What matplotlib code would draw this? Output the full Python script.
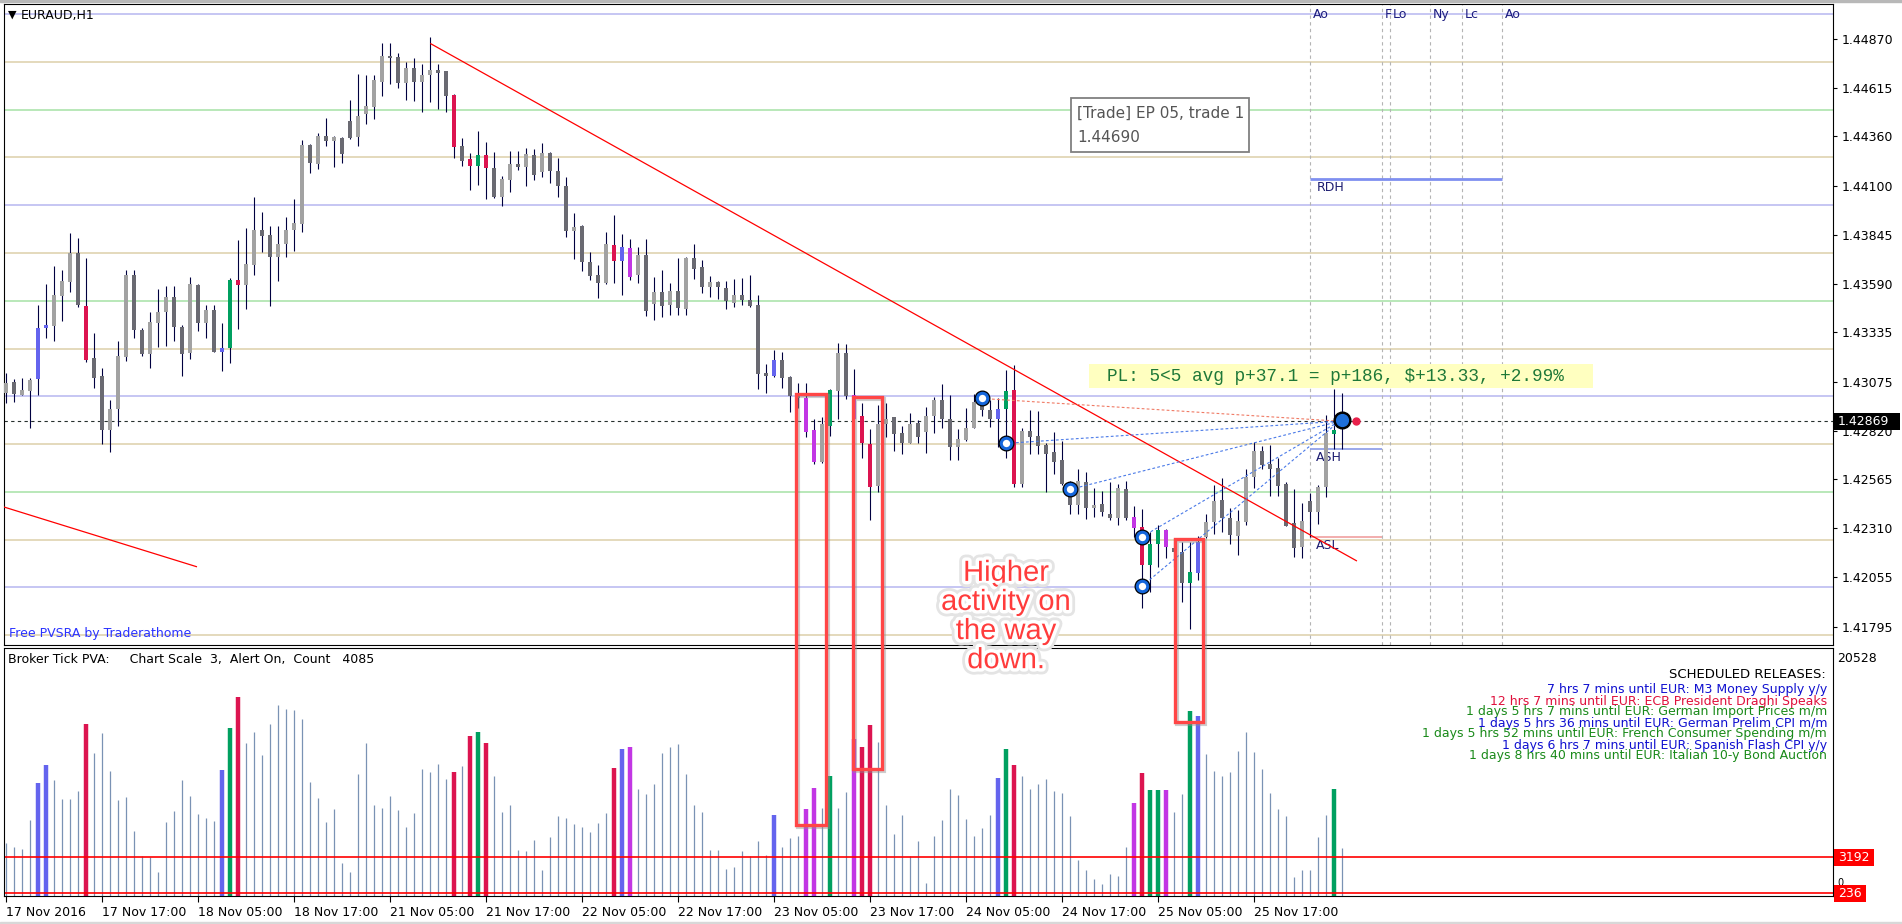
import numpy as np
import matplotlib
matplotlib.use('Agg')
import matplotlib.pyplot as plt
import matplotlib.patheffects as pe
from matplotlib.patches import Rectangle
from matplotlib.transforms import IdentityTransform, blended_transform_factory

# EURAUD H1, one value per bar starting 17 Nov 2016 05:00
opens = [
    1.43016, 1.43074, 1.43007, 1.43030, 1.43089, 1.43356, 1.43370, 1.43527, 1.43600, 1.43749,
    1.43473, 1.43199, 1.43107, 1.42824, 1.42933, 1.43208, 1.43635, 1.43347, 1.43220, 1.43382,
    1.43440, 1.43522, 1.43365, 1.43225, 1.43583, 1.43382, 1.43452, 1.43231, 1.43252, 1.43609,
    1.43583, 1.43687, 1.43870, 1.43844, 1.43731, 1.43795, 1.43870, 1.43900, 1.44315, 1.44214,
    1.44362, 1.44338, 1.44354, 1.44441, 1.44359, 1.44477, 1.44512, 1.44647, 1.44781, 1.44774,
    1.44641, 1.44716, 1.44647, 1.44682, 1.44708, 1.44703, 1.44577, 1.44310, 1.44240, 1.44207,
    1.44263, 1.44193, 1.44045, 1.44132, 1.44216, 1.44202, 1.44263, 1.44172, 1.44272, 1.44181,
    1.44101, 1.43867, 1.43891, 1.43705, 1.43635, 1.43595, 1.43792, 1.43710, 1.43775, 1.43635,
    1.43740, 1.43483, 1.43547, 1.43478, 1.43551, 1.43457, 1.43722, 1.43675, 1.43573, 1.43596,
    1.43565, 1.43490, 1.43530, 1.43504, 1.43478, 1.43120, 1.43108, 1.43190, 1.43103, 1.43012,
    1.42989, 1.42823, 1.42658, 1.42846, 1.43029, 1.43225, 1.43007, 1.42897, 1.42750, 1.42530,
    1.42853, 1.42890, 1.42809, 1.42757, 1.42858, 1.42815, 1.42898, 1.42980, 1.42884, 1.42736,
    1.42771, 1.42837, 1.42960, 1.42928, 1.42884, 1.42932, 1.43033, 1.42544, 1.42818, 1.42792,
    1.42745, 1.42710, 1.42666, 1.42541, 1.42431, 1.42553, 1.42417, 1.42436, 1.42387, 1.42361,
    1.42515, 1.42370, 1.42318, 1.42120, 1.42227, 1.42300, 1.42209, 1.42187, 1.42026, 1.42078,
    1.42265, 1.42340, 1.42457, 1.42366, 1.42270, 1.42344, 1.42576, 1.42714, 1.42646, 1.42623,
    1.42541, 1.42335, 1.42213, 1.42452, 1.42396, 1.42527, 1.42801, 1.42829]
highs = [
    1.43120, 1.43091, 1.43095, 1.43095, 1.43478, 1.43588, 1.43682, 1.43661, 1.43853, 1.43829,
    1.43722, 1.43333, 1.43147, 1.42981, 1.43290, 1.43661, 1.43661, 1.43360, 1.43440, 1.43560,
    1.43578, 1.43578, 1.43374, 1.43626, 1.43590, 1.43478, 1.43478, 1.43386, 1.43618, 1.43818,
    1.43883, 1.44045, 1.43966, 1.43891, 1.43893, 1.43937, 1.44033, 1.44341, 1.44320, 1.44380,
    1.44455, 1.44362, 1.44356, 1.44551, 1.44687, 1.44682, 1.44682, 1.44847, 1.44847, 1.44798,
    1.44751, 1.44769, 1.44737, 1.44882, 1.44737, 1.44705, 1.44580, 1.44350, 1.44272, 1.44388,
    1.44333, 1.44277, 1.44153, 1.44286, 1.44286, 1.44298, 1.44293, 1.44324, 1.44277, 1.44245,
    1.44146, 1.43958, 1.43897, 1.43754, 1.43687, 1.43858, 1.43949, 1.43850, 1.43823, 1.43783,
    1.43823, 1.43626, 1.43661, 1.43594, 1.43722, 1.43730, 1.43797, 1.43713, 1.43629, 1.43605,
    1.43605, 1.43614, 1.43617, 1.43635, 1.43530, 1.43167, 1.43242, 1.43233, 1.43108, 1.43071,
    1.43068, 1.42884, 1.42893, 1.43040, 1.43277, 1.43272, 1.43143, 1.42963, 1.42829, 1.42954,
    1.42963, 1.42893, 1.42844, 1.42914, 1.42876, 1.42946, 1.42998, 1.43064, 1.43007, 1.42827,
    1.42937, 1.43010, 1.42989, 1.42980, 1.42989, 1.43137, 1.43164, 1.42836, 1.42928, 1.42923,
    1.42754, 1.42815, 1.42768, 1.42558, 1.42619, 1.42602, 1.42518, 1.42504, 1.42553, 1.42541,
    1.42558, 1.42426, 1.42408, 1.42291, 1.42326, 1.42304, 1.42257, 1.42239, 1.42239, 1.42269,
    1.42387, 1.42536, 1.42571, 1.42414, 1.42405, 1.42619, 1.42759, 1.42741, 1.42745, 1.42679,
    1.42550, 1.42513, 1.42440, 1.42492, 1.42536, 1.42902, 1.43041, 1.43015]
lows = [
    1.42963, 1.42969, 1.43007, 1.42836, 1.43007, 1.43307, 1.43292, 1.43395, 1.43548, 1.43470,
    1.43182, 1.43046, 1.42751, 1.42711, 1.42845, 1.43187, 1.43307, 1.43213, 1.43150, 1.43257,
    1.43264, 1.43290, 1.43108, 1.43196, 1.43344, 1.43307, 1.43231, 1.43135, 1.43177, 1.43352,
    1.43457, 1.43635, 1.43757, 1.43474, 1.43604, 1.43731, 1.43762, 1.43862, 1.44170, 1.44190,
    1.44312, 1.44202, 1.44219, 1.44347, 1.44312, 1.44425, 1.44451, 1.44572, 1.44633, 1.44615,
    1.44551, 1.44547, 1.44490, 1.44542, 1.44504, 1.44490, 1.44249, 1.44207, 1.44080, 1.44106,
    1.44031, 1.44040, 1.43998, 1.44068, 1.44184, 1.44102, 1.44132, 1.44150, 1.44118, 1.44045,
    1.43836, 1.43719, 1.43656, 1.43609, 1.43516, 1.43590, 1.43595, 1.43530, 1.43609, 1.43595,
    1.43420, 1.43399, 1.43417, 1.43425, 1.43425, 1.43425, 1.43612, 1.43542, 1.43521, 1.43509,
    1.43457, 1.43465, 1.43478, 1.43465, 1.43041, 1.43015, 1.43103, 1.43045, 1.42919, 1.42937,
    1.42789, 1.42646, 1.42650, 1.42794, 1.42881, 1.42986, 1.42880, 1.42679, 1.42352, 1.42497,
    1.42789, 1.42715, 1.42701, 1.42754, 1.42754, 1.42705, 1.42806, 1.42836, 1.42666, 1.42666,
    1.42768, 1.42836, 1.42898, 1.42841, 1.42736, 1.42680, 1.42527, 1.42527, 1.42696, 1.42698,
    1.42501, 1.42593, 1.42536, 1.42384, 1.42387, 1.42358, 1.42370, 1.42375, 1.42352, 1.42326,
    1.42352, 1.42265, 1.41890, 1.41977, 1.42105, 1.42152, 1.42105, 1.41922, 1.41782, 1.42039,
    1.42257, 1.42279, 1.42291, 1.42227, 1.42169, 1.42326, 1.42522, 1.42619, 1.42480, 1.42480,
    1.42323, 1.42161, 1.42152, 1.42265, 1.42331, 1.42475, 1.42727, 1.42727]
closes = [
    1.43068, 1.43011, 1.43033, 1.43086, 1.43356, 1.43374, 1.43531, 1.43604, 1.43752, 1.43478,
    1.43190, 1.43098, 1.42824, 1.42933, 1.43211, 1.43635, 1.43347, 1.43220, 1.43391, 1.43440,
    1.43522, 1.43365, 1.43222, 1.43588, 1.43382, 1.43452, 1.43231, 1.43252, 1.43609, 1.43583,
    1.43693, 1.43870, 1.43841, 1.43731, 1.43795, 1.43870, 1.43905, 1.44315, 1.44219, 1.44362,
    1.44336, 1.44359, 1.44266, 1.44354, 1.44467, 1.44519, 1.44655, 1.44781, 1.44772, 1.44641,
    1.44716, 1.44647, 1.44682, 1.44708, 1.44694, 1.44573, 1.44307, 1.44233, 1.44207, 1.44263,
    1.44193, 1.44045, 1.44136, 1.44216, 1.44202, 1.44268, 1.44158, 1.44272, 1.44181, 1.44102,
    1.43867, 1.43884, 1.43705, 1.43631, 1.43595, 1.43795, 1.43710, 1.43780, 1.43626, 1.43740,
    1.43445, 1.43547, 1.43472, 1.43551, 1.43464, 1.43725, 1.43669, 1.43573, 1.43596, 1.43570,
    1.43500, 1.43530, 1.43504, 1.43472, 1.43116, 1.43108, 1.43190, 1.43097, 1.43003, 1.42994,
    1.42815, 1.42658, 1.42855, 1.43033, 1.43225, 1.43003, 1.42884, 1.42754, 1.42527, 1.42855,
    1.42884, 1.42801, 1.42757, 1.42855, 1.42789, 1.42897, 1.42980, 1.42879, 1.42736, 1.42775,
    1.42837, 1.42972, 1.42928, 1.42884, 1.42933, 1.43027, 1.42544, 1.42818, 1.42789, 1.42741,
    1.42698, 1.42658, 1.42541, 1.42431, 1.42558, 1.42417, 1.42431, 1.42393, 1.42366, 1.42522,
    1.42366, 1.42309, 1.42117, 1.42230, 1.42300, 1.42213, 1.42187, 1.42026, 1.42082, 1.42239,
    1.42340, 1.42452, 1.42365, 1.42277, 1.42347, 1.42576, 1.42714, 1.42640, 1.42619, 1.42532,
    1.42323, 1.42209, 1.42347, 1.42396, 1.42527, 1.42806, 1.42823, 1.42869]
# broker tick volume per bar
volumes = [
    4427, 4015, 3850, 6294, 9342, 10825, 9589, 8024, 8024, 8683,
    14203, 11813, 13461, 10331, 7941, 8189, 5388, 3328, 3191, 1955,
    6129, 7035, 9589, 8271, 6788, 6459, 6212, 10413, 13873, 16509,
    12637, 13543, 11649, 14203, 15850, 15438, 15356, 14614, 9424, 8106,
    6129, 7200, 2752, 2010, 10083, 12637, 7530, 7283, 8271, 7118,
    5717, 6871, 10523, 10248, 10907, 9699, 10248, 10743, 13214, 13543,
    12637, 9919, 6953, 7530, 3823, 3740, 4647, 2175, 4894, 6624,
    6459, 5964, 5717, 5305, 6047, 6871, 10578, 12143, 12308, 8848,
    8436, 9260, 11813, 12308, 12555, 10083, 7530, 6953, 3823, 3823,
    2257, 2422, 3740, 3328, 4564, 3411, 6706, 4070, 4811, 4976,
    7200, 8930, 7283, 9919, 7283, 8601, 12967, 12308, 14120, 12720,
    7530, 5141, 6706, 3328, 4564, 1104, 4976, 6294, 8848, 8354,
    6376, 4976, 5635, 6706, 9754, 12143, 10825, 9919, 8848, 9260,
    9672, 8683, 8518, 6624, 2999, 2175, 1434, 1022, 1845, 1681,
    4070, 7694, 10166, 8765, 8765, 8765, 6953, 8436, 15273, 14862,
    11731, 10331, 9919, 10248, 11978, 13543, 11896, 10496, 8518, 7200,
    6624, 1599, 2175, 2175, 4894, 6706, 8848, 3987]
# PVSRA class: u/d normal up/down, B/M rising volume up/down, G/R climax up/down
pvsra = ("uduuBBuuud" "Rdduuudduu" "uddududBGR" "uudduuuudu" "dudduuuudd"
         "uduuddRdRG" "Rduudududd" "duddduRBMu" "dudududdud" "duddddBddd"
         "MMuGudMRRu" "udduduuddu" "uuddBGRudd" "ddddududdu" "dMRGGMddGB"
         "uudduuuddd" "dduduuGu")

time_ticks = [1, 13, 25, 37, 49, 61, 73, 85, 97, 109, 121, 133, 145, 157]
time_labels = ['17 Nov 2016', '17 Nov 17:00', '18 Nov 05:00', '18 Nov 17:00',
               '21 Nov 05:00', '21 Nov 17:00', '22 Nov 05:00', '22 Nov 17:00',
               '23 Nov 05:00', '23 Nov 17:00', '24 Nov 05:00', '24 Nov 17:00',
               '25 Nov 05:00', '25 Nov 17:00']
price_ticks = [1.44870, 1.44615, 1.44360, 1.44100, 1.43845, 1.43590, 1.43335,
               1.43075, 1.42820, 1.42565, 1.42310, 1.42055, 1.41795]
levels = [1.4500, 1.4475, 1.4450, 1.4425, 1.4400, 1.4375, 1.4350,
          1.4325, 1.4300, 1.4275, 1.4250, 1.4225, 1.4200, 1.4175]
session_bars = [164, 173, 174, 179, 183, 188]
session_names = ['Ao', 'F', 'Lo', 'Ny', 'Lc', 'Ao']
current_price = 1.42869
vol_levels = [3192, 236]
vol_max = 20528

# trade entries and the open position
entry_bars = [123, 126, 134, 143, 143]
entry_prices = [1.42989, 1.42754, 1.42513, 1.42265, 1.42007]
pos_bar, pos_price = 168, 1.42876
# drawn trend lines (bar, price) pairs
trend_a = ([54.1, 169.8], [1.44845, 1.42140])
trend_b = ([0.75, 24.8], [1.42421, 1.42109])
rdh, ash, asl = 1.44137, 1.42724, 1.42262
# highlight boxes: bar from, bar to, top price, bottom volume
boxes = [(99.7, 103.5, 1.43012, 5880), (106.9, 110.5, 1.42997, 10500),
         (147.1, 150.6, 1.42254, 14400)]

W, H = 1902, 924
fig = plt.figure(figsize=(W / 100, H / 100), dpi=100)
ax = fig.add_axes([4 / W, 1 - 645 / H, 1829 / W, 641 / H])
vax = fig.add_axes([4 / W, 1 - 896 / H, 1829 / W, 248 / H])

x = np.arange(1, len(opens) + 1)
o = np.array(opens); c = np.array(closes)
hi = np.maximum(np.array(highs), np.maximum(o, c))
lo = np.minimum(np.array(lows), np.minimum(o, c))
cmap = {'u': '#a2a2a2', 'd': '#6a6a72', 'R': '#dc1450', 'G': '#00a060',
        'B': '#6464ee', 'M': '#c236e4'}
cols = [cmap[k] for k in pvsra]

for ax_ in (ax, vax):
    ax_.set_xlim(0.75, 229.375)
    for s in ax_.spines.values():
        s.set_color('black'); s.set_linewidth(0.8)
ax.set_ylim(1.41699, 1.45053)

lev_cols = ['#b6b6f0', '#dcd0aa', '#a6e2a6', '#dcd0aa']
for i, lv in enumerate(levels):
    ax.axhline(lv, color=lev_cols[i % 4], lw=1.1, zorder=1)
for b in session_bars:
    ax.axvline(b, color='#b4b4b4', lw=0.8, ls=(0, (3, 3)), zorder=1)
tr = blended_transform_factory(ax.transData, ax.transAxes)
for b, n in zip(session_bars, session_names):
    ax.text(b + 0.35, 0.984, n, transform=tr, fontsize=9, color='#1c1c80', va='center')

ax.axhline(current_price, color='#26302e', lw=0.8, ls=(0, (3, 3)), zorder=2)

# candles
ax.vlines(x, lo, hi, color='#000040', lw=0.8, zorder=3)
body = np.maximum(np.abs(c - o), 0.00005)
ax.bar(x, body, width=0.62, bottom=np.minimum(o, c), color=cols, zorder=4)

ax.plot(*trend_a, color='#ff0000', lw=0.9, zorder=5)
ax.plot(*trend_b, color='#ff0000', lw=0.9, zorder=5)

ax.hlines(rdh, 164, 188, color='#7f8ff0', lw=2, zorder=2)
ax.hlines(ash, 164, 173, color='#8a9ae6', lw=1.2, zorder=2)
ax.hlines(asl, 164, 173, color='#f0a0a0', lw=1.2, zorder=2)
ax.text(164.8, rdh - 0.00012, 'RDH', fontsize=9, color='#1c1c70', va='top')
ax.text(164.8, ash - 0.00010, 'ASH', fontsize=9, color='#1c1c70', va='top')
ax.text(164.8, asl - 0.00010, 'ASL', fontsize=9, color='#1c1c70', va='top')

# trade links and markers
for i, (b, p) in enumerate(zip(entry_bars, entry_prices)):
    col = '#f07a64' if i == 0 else '#4a7ae8'
    ax.plot([b, pos_bar - 0.3], [p, pos_price - 0.00006], color=col, lw=0.8,
            ls=(0, (2.5, 2)), zorder=5)
ax.plot(entry_bars, entry_prices, 'o', ms=10.5, color='black', zorder=6)
ax.plot(entry_bars, entry_prices, 'o', ms=7.5, mfc='white', mec='#1466dc', mew=2.2, zorder=7)
ax.plot(pos_bar, pos_price, 'o', ms=12, color='black', zorder=6)
ax.plot(pos_bar, pos_price, 'o', ms=8.5, color='#1e6fd9', zorder=7)
ax.plot(pos_bar + 1.8, current_price, 'o', ms=5, color='#e8204a', zorder=7)

# trade tooltip and PL banner
ax.add_patch(Rectangle((134.1, 1.44279), 22.3, 0.00282, facecolor='white',
                       edgecolor='#808080', lw=1.3, zorder=6))
ax.text(134.9, 1.44483, '[Trade] EP 05, trade 1', fontsize=11, color='#555555',
        va='center', zorder=7)
ax.text(134.9, 1.44352, '1.44690', fontsize=11, color='#555555', va='center', zorder=7)
ax.add_patch(Rectangle((136.4, 1.43044), 63.0, 0.00125, facecolor='#ffffc0',
                       edgecolor='none', zorder=6))
ax.text(138.6, 1.43106, 'PL: 5<5 avg p+37.1 = p+186, $+13.33, +2.99%',
        family='Liberation Mono', fontsize=12.8, color='#1e7838', va='center', zorder=7)

ax.yaxis.tick_right()
ax.set_yticks(price_ticks)
ax.set_yticklabels(['%.5f' % p for p in price_ticks])
ax.set_xticks([])
ax.tick_params(axis='y', length=3, width=0.8, labelsize=9, pad=3)

fig.text(8 / W, 1 - 15 / H, '\u25bc', fontsize=8, va='center')
fig.text(21 / W, 1 - 16 / H, 'EURAUD,H1', fontsize=9, va='center')
fig.text(9 / W, 1 - 634 / H, 'Free PVSRA by Traderathome', fontsize=9,
         color='#2a32ff', va='center')

# volume panel
vax.set_ylim(0, vol_max)
special = [k not in 'ud' for k in pvsra]
norm_x = [xi for xi, s in zip(x, special) if not s]
norm_v = [v for v, s in zip(volumes, special) if not s]
vax.vlines(norm_x, 0, norm_v, color='#7a92b4', lw=0.9)
sp_x = [xi for xi, s in zip(x, special) if s]
sp_v = [v for v, s in zip(volumes, special) if s]
sp_c = [cc for cc, s in zip(cols, special) if s]
vax.vlines(sp_x, 0, sp_v, color=sp_c, lw=3.2)
for lv in vol_levels:
    vax.axhline(lv, color='#ff0000', lw=1.2)
vax.set_yticks([])
vax.set_xticks(time_ticks)
vax.set_xticklabels(time_labels, ha='left')
vax.tick_params(axis='x', length=4, width=0.8, labelsize=9, pad=3)

fig.text(8 / W, 1 - 660 / H,
         'Broker Tick PVA:     Chart Scale  3,  Alert On,  Count   4085', fontsize=9,
         va='center')
releases = [
    ('7 hrs 7 mins until EUR: M3 Money Supply y/y', '#1010d0'),
    ('12 hrs 7 mins until EUR: ECB President Draghi Speaks', '#e0103c'),
    ('1 days 5 hrs 7 mins until EUR: German Import Prices m/m', '#1a8a1a'),
    ('1 days 5 hrs 36 mins until EUR: German Prelim CPI m/m', '#1010d0'),
    ('1 days 5 hrs 52 mins until EUR: French Consumer Spending m/m', '#1a8a1a'),
    ('1 days 6 hrs 7 mins until EUR: Spanish Flash CPI y/y', '#1010d0'),
    ('1 days 8 hrs 40 mins until EUR: Italian 10-y Bond Auction', '#1a8a1a')]
fig.text(1826 / W, 1 - 675 / H, 'SCHEDULED RELEASES:', fontsize=9.5, ha='right',
         va='center')
for i, (txt, col) in enumerate(releases):
    fig.text(1827 / W, 1 - (690 + 11 * i) / H, txt, fontsize=9, color=col,
             ha='right', va='center')

# axis value boxes drawn in pixels
fig.canvas.draw()
def axis_box(a, val, txt, fc, tc, w):
    yd = a.transData.transform((1, val))[1]
    fig.add_artist(Rectangle((1834, yd - 8.5), w, 17, transform=IdentityTransform(),
                             facecolor=fc, edgecolor='none', zorder=10))
    fig.text(1838 / W, yd / H, txt, fontsize=9, color=tc, va='center', zorder=11)

axis_box(ax, current_price, '%.5f' % current_price, 'black', 'white', 66)
fig.text(1837 / W, 1 - 658 / H, str(vol_max), fontsize=9, va='center')
fig.text(1837 / W, 1 - 883 / H, '0', fontsize=7, va='center')
axis_box(vax, vol_levels[0], str(vol_levels[0]), '#ff0000', 'white', 40)
axis_box(vax, vol_levels[1], str(vol_levels[1]), '#ff0000', 'white', 32)

shadow = [pe.SimpleLineShadow(offset=(1.5, -1.5), shadow_color='#909090', alpha=0.45,
                              linewidth=3), pe.Normal()]
for x0, x1, top, vb in boxes:
    px0, py0 = ax.transData.transform((x0, top))
    px1, py1 = vax.transData.transform((x1, vb))
    r = Rectangle((px0, py1), px1 - px0, py0 - py1, transform=IdentityTransform(),
                  fill=False, edgecolor='#ff4646', lw=2.4, zorder=12)
    r.set_path_effects(shadow)
    fig.add_artist(r)

fig.text(126, 1.41848, 'Higher\nactivity on\nthe way\ndown.', transform=ax.transData,
         family='Liberation Sans', fontsize=21, color='#ff3c3c', ha='center',
         va='center', linespacing=1.05, zorder=13,
         path_effects=[pe.Stroke(linewidth=9, foreground='#e4e4e4'),
                       pe.Stroke(linewidth=5, foreground='white'), pe.Normal()])

fig.add_artist(Rectangle((0, 1 - 2 / H), 1, 2 / H, transform=fig.transFigure,
                         color='#b8b8b8'))
fig.add_artist(Rectangle((0, 0), 1, 2 / H, transform=fig.transFigure, color='#d8d8d8'))

fig.savefig('out.png', dpi=100)
